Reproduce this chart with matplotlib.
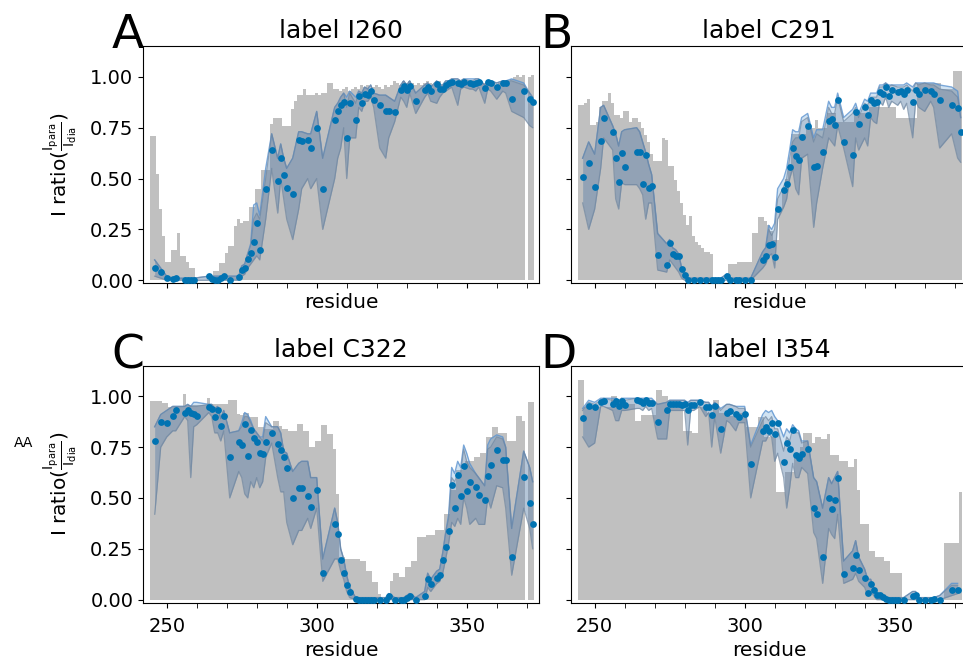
"""Four-panel PRE intensity ratio figure (labels I260, C291, C322, I354)."""

import numpy as np
import matplotlib

matplotlib.use("Agg")
import matplotlib.pyplot as plt
from matplotlib.ticker import MultipleLocator

# residues covered by the grey background bars
BAR_RESIDUES = list(range(245, 373))

# ---------------- label I260 ----------------
A_bars = [
    0.71, 0.71, 0.52, 0.35, 0.22, 0.09, 0.09, 0.15, 0.15, 0.23,
    0.12, 0.12, 0.09, 0.06, 0.06, 0.0, 0.0, 0.0, 0.0, 0.0,
    0.0, 0.044, 0.044, 0.087, 0.087, 0.136, 0.17, 0.17, 0.265, 0.30,
    0.28, 0.29, 0.29, 0.36, 0.36, 0.45, 0.45, 0.54, 0.54, 0.54,
    0.77, 0.80, 0.80, 0.80, 0.76, 0.76, 0.76, 0.84, 0.88, 0.91,
    0.91, 0.94, 0.91, 0.91, 0.91, 0.92, 0.91, 0.92, 0.92, 0.97,
    0.97, 0.94, 0.94, 0.93, 0.94, 0.95, 0.93, 0.94, 0.95, 0.94,
    0.96, 0.95, 0.96, 0.94, 0.95, 0.96, 0.95, 0.94, 0.96, 0.95,
    0.96, 0.98, 0.97, 0.96, 0.98, 0.97, 0.98, 0.97, 0.96, 0.97,
    0.96, 0.97, 0.98, 0.97, 0.96, 0.97, 0.98, 0.96, 0.97, 0.98,
    0.97, 0.96, 0.98, 0.97, 0.96, 0.97, 0.98, 0.97, 0.96, 0.97,
    0.98, 0.97, 0.96, 0.98, 0.97, 0.96, 0.97, 0.98, 0.97, 0.98,
    0.99, 1.0, 1.01, 1.0, 1.01, 0.0, 1.0, 1.01,
]
A_res = [
    246, 248, 250, 252, 253, 256, 257, 258, 259, 264,
    265, 266, 267, 268, 269, 271, 274, 275, 276, 277,
    278, 279, 280, 281, 283, 285, 287, 288, 289, 290,
    292, 294, 295, 297, 298, 300, 302, 306, 307, 308,
    309, 310, 311, 313, 314, 315, 316, 317, 318, 319,
    321, 323, 324, 326, 328, 329, 330, 331, 333, 336,
    337, 338, 340, 341, 342, 343, 344, 345, 347, 348,
    349, 351, 352, 353, 354, 356, 357, 358, 360, 362,
    363, 365, 369, 371, 372,
]
A_val = [
    0.06, 0.04, 0.01, 0.005, 0.01, 0.0, 0.0, 0.0, 0.002, 0.02,
    0.005, 0.0, 0.0, 0.01, 0.02, 0.0, 0.015, 0.05, 0.06, 0.105,
    0.135, 0.19, 0.28, 0.15, 0.45, 0.64, 0.49, 0.60, 0.515, 0.455,
    0.425, 0.69, 0.685, 0.69, 0.65, 0.75, 0.45, 0.79, 0.83, 0.86,
    0.877, 0.70, 0.872, 0.79, 0.905, 0.872, 0.916, 0.91, 0.93, 0.888,
    0.862, 0.83, 0.83, 0.826, 0.934, 0.954, 0.934, 0.954, 0.88, 0.934,
    0.95, 0.93, 0.967, 0.94, 0.94, 0.96, 0.97, 0.975, 0.97, 0.966,
    0.974, 0.97, 0.966, 0.97, 0.975, 0.946, 0.975, 0.97, 0.95, 0.97,
    0.97, 0.89, 0.93, 0.89, 0.877,
]
A_lo = [
    0.02, 0.01, 0.0, 0.0, 0.0, 0.0, 0.0, 0.0, 0.0, 0.0,
    0.0, 0.0, 0.0, 0.0, 0.0, 0.0, 0.0, 0.02, 0.03, 0.06,
    0.08, 0.10, 0.12, 0.10, 0.30, 0.55, 0.33, 0.50, 0.40, 0.30,
    0.20, 0.35, 0.45, 0.50, 0.45, 0.50, 0.25, 0.50, 0.60, 0.65,
    0.75, 0.50, 0.70, 0.70, 0.85, 0.83, 0.88, 0.88, 0.90, 0.85,
    0.65, 0.60, 0.70, 0.78, 0.90, 0.88, 0.85, 0.92, 0.82, 0.90,
    0.92, 0.88, 0.87, 0.90, 0.92, 0.93, 0.94, 0.95, 0.86, 0.94,
    0.95, 0.94, 0.94, 0.93, 0.95, 0.87, 0.94, 0.93, 0.89, 0.93,
    0.92, 0.83, 0.80, 0.76, 0.75,
]
A_hi = [
    0.10, 0.06, 0.02, 0.01, 0.01, 0.01, 0.01, 0.01, 0.01, 0.02,
    0.02, 0.02, 0.02, 0.02, 0.02, 0.02, 0.02, 0.07, 0.08, 0.13,
    0.17, 0.30, 0.33, 0.30, 0.50, 0.72, 0.60, 0.67, 0.60, 0.55,
    0.60, 0.73, 0.73, 0.72, 0.72, 0.83, 0.60, 0.85, 0.87, 0.90,
    0.92, 0.85, 0.92, 0.87, 0.93, 0.92, 0.95, 0.94, 0.96, 0.92,
    0.91, 0.91, 0.90, 0.88, 0.96, 0.98, 0.96, 0.98, 0.92, 0.96,
    0.97, 0.95, 0.98, 0.96, 0.96, 0.98, 0.98, 0.99, 0.99, 0.98,
    0.99, 0.98, 0.98, 0.99, 0.99, 0.96, 0.98, 0.98, 0.97, 0.98,
    0.98, 0.98, 0.96, 0.92, 0.90,
]
A_hi_light = [
    0.10, 0.06, 0.02, 0.01, 0.01, 0.01, 0.01, 0.01, 0.01, 0.02,
    0.02, 0.02, 0.02, 0.02, 0.02, 0.02, 0.02, 0.07, 0.08, 0.13,
    0.18, 0.37, 0.38, 0.32, 0.55, 0.72, 0.60, 0.67, 0.60, 0.55,
    0.60, 0.73, 0.73, 0.72, 0.72, 0.83, 0.60, 0.85, 0.87, 0.90,
    0.92, 0.90, 0.93, 0.90, 0.93, 0.92, 0.95, 0.94, 0.96, 0.92,
    0.91, 0.91, 0.90, 0.88, 0.96, 0.98, 0.96, 0.98, 0.92, 0.96,
    0.97, 0.95, 0.98, 0.96, 0.96, 0.98, 0.98, 0.99, 0.99, 0.98,
    0.99, 0.99, 0.99, 0.99, 0.99, 0.96, 0.98, 0.98, 0.97, 0.98,
    0.98, 0.99, 0.97, 0.92, 0.90,
]

# ---------------- label C291 ----------------
B_bars = [
    0.86, 0.86, 0.87, 0.89, 0.765, 0.765, 0.78, 0.85, 0.88, 0.88,
    0.92, 0.87, 0.81, 0.81, 0.80, 0.83, 0.83, 0.78, 0.80, 0.80,
    0.78, 0.75, 0.716, 0.68, 0.62, 0.585, 0.585, 0.585, 0.70, 0.69,
    0.56, 0.56, 0.495, 0.437, 0.38, 0.32, 0.27, 0.318, 0.216, 0.19,
    0.175, 0.16, 0.14, 0.14, 0.13, 0.0, 0.0, 0.0, 0.0, 0.0,
    0.08, 0.08, 0.08, 0.09, 0.09, 0.09, 0.09, 0.09, 0.23, 0.23,
    0.31, 0.31, 0.29, 0.27, 0.24, 0.20, 0.20, 0.35, 0.45, 0.50,
    0.55, 0.72, 0.72, 0.72, 0.72, 0.72, 0.75, 0.75, 0.75, 0.79,
    0.75, 0.75, 0.75, 0.82, 0.82, 0.82, 0.78, 0.78, 0.78, 0.78,
    0.78, 0.78, 0.82, 0.82, 0.82, 0.82, 0.82, 0.85, 0.85, 0.85,
    0.85, 0.85, 0.85, 0.85, 0.85, 0.85, 0.80, 0.80, 0.80, 0.80,
    0.80, 0.80, 0.80, 0.97, 0.97, 0.97, 0.97, 0.97, 0.97, 0.97,
    0.97, 0.94, 0.94, 0.94, 0.94, 1.03, 1.03, 1.03,
]
B_res = [
    246, 248, 250, 252, 253, 256, 257, 258, 259, 260,
    264, 265, 266, 267, 268, 269, 271, 274, 275, 276,
    277, 278, 279, 280, 281, 283, 285, 287, 289, 290,
    291, 292, 294, 295, 297, 298, 300, 302, 306, 307,
    308, 309, 310, 311, 313, 314, 315, 316, 317, 318,
    319, 321, 323, 324, 326, 328, 329, 330, 331, 333,
    336, 337, 338, 340, 341, 342, 343, 344, 345, 346,
    347, 348, 349, 351, 352, 353, 354, 356, 357, 358,
    360, 362, 363, 365, 369, 371, 372,
]
B_val = [
    0.51, 0.577, 0.46, 0.685, 0.797, 0.728, 0.60, 0.483, 0.628, 0.556,
    0.63, 0.63, 0.475, 0.617, 0.452, 0.462, 0.123, 0.077, 0.183, 0.13,
    0.12, 0.118, 0.053, 0.026, 0.003, 0.003, 0.0, 0.0, 0.0, 0.0,
    0.002, 0.0, 0.02, 0.0, 0.0, 0.0, 0.0, 0.002, 0.098, 0.118,
    0.175, 0.18, 0.115, 0.35, 0.442, 0.475, 0.555, 0.65, 0.61, 0.59,
    0.706, 0.757, 0.555, 0.56, 0.63, 0.785, 0.795, 0.765, 0.888, 0.68,
    0.618, 0.826, 0.767, 0.852, 0.81, 0.888, 0.87, 0.875, 0.924, 0.916,
    0.949, 0.908, 0.934, 0.924, 0.93, 0.916, 0.934, 0.875, 0.937, 0.916,
    0.937, 0.929, 0.918, 0.888, 0.86, 0.847, 0.73,
]
B_lo = [
    0.38, 0.25, 0.35, 0.55, 0.70, 0.64, 0.40, 0.35, 0.48, 0.47,
    0.47, 0.45, 0.42, 0.30, 0.38, 0.38, 0.05, 0.04, 0.10, 0.08,
    0.06, 0.04, 0.01, 0.0, 0.0, 0.0, 0.0, 0.0, 0.0, 0.0,
    0.0, 0.0, 0.0, 0.0, 0.0, 0.0, 0.0, 0.0, 0.06, 0.08,
    0.12, 0.13, 0.06, 0.30, 0.36, 0.40, 0.50, 0.55, 0.45, 0.42,
    0.60, 0.62, 0.26, 0.38, 0.55, 0.70, 0.68, 0.66, 0.76, 0.65,
    0.46, 0.70, 0.64, 0.70, 0.66, 0.80, 0.78, 0.77, 0.88, 0.86,
    0.90, 0.85, 0.88, 0.86, 0.88, 0.84, 0.87, 0.70, 0.88, 0.85,
    0.83, 0.88, 0.85, 0.65, 0.72, 0.60, 0.58,
]
B_hi = [
    0.60, 0.68, 0.62, 0.85, 0.86, 0.76, 0.72, 0.66, 0.73, 0.74,
    0.75, 0.73, 0.68, 0.63, 0.57, 0.52, 0.23, 0.18, 0.20, 0.16,
    0.15, 0.13, 0.06, 0.03, 0.01, 0.01, 0.01, 0.01, 0.01, 0.01,
    0.01, 0.01, 0.03, 0.01, 0.01, 0.01, 0.01, 0.01, 0.14, 0.16,
    0.25, 0.22, 0.25, 0.40, 0.46, 0.50, 0.60, 0.68, 0.70, 0.70,
    0.78, 0.80, 0.68, 0.72, 0.70, 0.85, 0.82, 0.82, 0.90, 0.78,
    0.82, 0.85, 0.80, 0.87, 0.86, 0.90, 0.90, 0.90, 0.95, 0.95,
    0.97, 0.95, 0.96, 0.95, 0.95, 0.95, 0.96, 0.93, 0.97, 0.96,
    0.97, 0.96, 0.96, 0.94, 0.93, 0.90, 0.80,
]
B_hi_light = [
    0.60, 0.68, 0.62, 0.85, 0.86, 0.76, 0.72, 0.66, 0.73, 0.74,
    0.75, 0.73, 0.68, 0.63, 0.57, 0.52, 0.23, 0.18, 0.20, 0.16,
    0.15, 0.13, 0.06, 0.03, 0.01, 0.01, 0.01, 0.01, 0.01, 0.01,
    0.01, 0.01, 0.03, 0.01, 0.01, 0.01, 0.01, 0.01, 0.14, 0.16,
    0.27, 0.25, 0.28, 0.45, 0.50, 0.55, 0.64, 0.74, 0.73, 0.73,
    0.80, 0.82, 0.70, 0.74, 0.74, 0.88, 0.85, 0.85, 0.92, 0.80,
    0.84, 0.87, 0.82, 0.89, 0.88, 0.92, 0.92, 0.92, 0.96, 0.96,
    0.97, 0.96, 0.96, 0.96, 0.96, 0.96, 0.97, 0.95, 0.97, 0.97,
    0.97, 0.97, 0.97, 0.96, 0.95, 0.93, 0.80,
]

# ---------------- label C322 ----------------
C_bars = [
    0.975, 0.975, 0.975, 0.975, 0.966, 0.966, 0.946, 0.946, 0.946, 0.946,
    0.946, 1.01, 0.955, 0.955, 0.955, 0.955, 0.955, 0.955, 0.955, 0.99,
    0.96, 0.96, 0.96, 0.96, 0.96, 0.96, 0.98, 0.98, 0.98, 0.913,
    0.91, 0.92, 0.92, 0.90, 0.90, 0.90, 0.85, 0.85, 0.84, 0.84,
    0.84, 0.88, 0.88, 0.856, 0.84, 0.84, 0.83, 0.83, 0.83, 0.865,
    0.865, 0.83, 0.83, 0.75, 0.75, 0.78, 0.78, 0.86, 0.86, 0.815,
    0.815, 0.74, 0.52, 0.21, 0.21, 0.20, 0.20, 0.20, 0.20, 0.20,
    0.19, 0.19, 0.14, 0.14, 0.087, 0.087, 0.03, 0.0, 0.0, 0.0,
    0.09, 0.13, 0.13, 0.11, 0.11, 0.16, 0.16, 0.19, 0.19, 0.31,
    0.31, 0.31, 0.32, 0.32, 0.32, 0.34, 0.34, 0.34, 0.42, 0.42,
    0.54, 0.54, 0.635, 0.635, 0.635, 0.68, 0.68, 0.68, 0.70, 0.70,
    0.72, 0.72, 0.80, 0.80, 0.85, 0.85, 0.82, 0.82, 0.82, 0.78,
    0.78, 0.78, 0.905, 0.905, 0.88, 0.0, 0.97, 0.97,
]
C_res = [
    246, 248, 250, 252, 253, 256, 257, 258, 259, 260,
    264, 265, 266, 267, 268, 269, 271, 274, 275, 276,
    277, 278, 279, 280, 281, 282, 283, 285, 287, 288,
    289, 290, 292, 294, 295, 297, 298, 300, 302, 306,
    307, 308, 309, 310, 311, 313, 314, 315, 316, 317,
    318, 319, 321, 323, 324, 326, 328, 329, 330, 331,
    333, 336, 337, 338, 340, 341, 342, 343, 344, 345,
    346, 347, 348, 349, 350, 351, 353, 354, 356, 357,
    358, 360, 362, 363, 365, 369, 371, 372,
]
C_val = [
    0.782, 0.871, 0.867, 0.905, 0.934, 0.918, 0.934, 0.918, 0.915, 0.904,
    0.949, 0.937, 0.90, 0.93, 0.853, 0.905, 0.70, 0.777, 0.76, 0.864,
    0.705, 0.836, 0.795, 0.777, 0.72, 0.717, 0.774, 0.818, 0.766, 0.737,
    0.702, 0.648, 0.499, 0.548, 0.548, 0.509, 0.455, 0.537, 0.131, 0.371,
    0.322, 0.193, 0.132, 0.073, 0.037, 0.003, 0.0, 0.0, 0.0, 0.0,
    0.0, 0.0, 0.0, 0.0, 0.02, 0.0, 0.0, 0.0, 0.008, 0.02,
    0.0, 0.02, 0.10, 0.077, 0.108, 0.12, 0.193, 0.258, 0.337, 0.564,
    0.452, 0.613, 0.512, 0.659, 0.533, 0.576, 0.553, 0.515, 0.491, 0.61,
    0.662, 0.738, 0.689, 0.689, 0.209, 0.602, 0.474, 0.37,
]
C_lo = [
    0.42, 0.75, 0.80, 0.83, 0.83, 0.90, 0.88, 0.60, 0.85, 0.86,
    0.92, 0.90, 0.82, 0.82, 0.78, 0.83, 0.50, 0.63, 0.60, 0.52,
    0.50, 0.58, 0.55, 0.60, 0.55, 0.58, 0.70, 0.77, 0.60, 0.53,
    0.53, 0.38, 0.27, 0.34, 0.34, 0.40, 0.35, 0.45, 0.09, 0.20,
    0.20, 0.14, 0.10, 0.04, 0.01, 0.0, 0.0, 0.0, 0.0, 0.0,
    0.0, 0.0, 0.0, 0.0, 0.0, 0.0, 0.0, 0.0, 0.0, 0.0,
    0.0, 0.0, 0.06, 0.04, 0.08, 0.09, 0.13, 0.20, 0.28, 0.38,
    0.36, 0.40, 0.37, 0.50, 0.45, 0.37, 0.40, 0.37, 0.37, 0.50,
    0.45, 0.56, 0.55, 0.45, 0.12, 0.45, 0.35, 0.25,
]
C_hi = [
    0.85, 0.91, 0.93, 0.95, 0.95, 0.95, 0.96, 0.95, 0.95, 0.95,
    0.96, 0.96, 0.94, 0.95, 0.89, 0.93, 0.82, 0.83, 0.85, 0.90,
    0.90, 0.87, 0.84, 0.82, 0.80, 0.78, 0.87, 0.85, 0.85, 0.82,
    0.73, 0.72, 0.63, 0.67, 0.68, 0.68, 0.60, 0.60, 0.20, 0.45,
    0.38, 0.25, 0.20, 0.12, 0.06, 0.01, 0.01, 0.01, 0.01, 0.01,
    0.01, 0.01, 0.01, 0.01, 0.03, 0.01, 0.01, 0.01, 0.02, 0.03,
    0.01, 0.04, 0.13, 0.10, 0.14, 0.15, 0.23, 0.33, 0.40, 0.60,
    0.58, 0.62, 0.62, 0.74, 0.68, 0.65, 0.62, 0.60, 0.56, 0.74,
    0.75, 0.80, 0.79, 0.75, 0.35, 0.73, 0.65, 0.58,
]
C_hi_light = [
    0.85, 0.91, 0.93, 0.95, 0.95, 0.95, 0.96, 0.95, 0.97, 0.97,
    0.96, 0.96, 0.94, 0.95, 0.89, 0.93, 0.82, 0.83, 0.87, 0.92,
    0.91, 0.88, 0.84, 0.82, 0.80, 0.80, 0.90, 0.85, 0.85, 0.82,
    0.73, 0.72, 0.63, 0.67, 0.68, 0.68, 0.60, 0.60, 0.20, 0.45,
    0.38, 0.25, 0.20, 0.12, 0.06, 0.01, 0.01, 0.01, 0.01, 0.01,
    0.01, 0.01, 0.01, 0.01, 0.03, 0.01, 0.01, 0.01, 0.02, 0.03,
    0.01, 0.04, 0.13, 0.10, 0.14, 0.15, 0.23, 0.33, 0.42, 0.65,
    0.62, 0.68, 0.65, 0.76, 0.72, 0.67, 0.62, 0.60, 0.56, 0.76,
    0.79, 0.81, 0.80, 0.75, 0.35, 0.73, 0.65, 0.58,
]

# ---------------- label I354 ----------------
D_bars = [
    1.08, 1.08, 0.946, 0.946, 0.946, 0.946, 0.946, 0.946, 0.946, 0.946,
    0.946, 1.0, 1.0, 0.96, 0.96, 0.96, 0.96, 0.96, 0.96, 0.88,
    0.88, 0.91, 0.91, 0.91, 0.91, 0.91, 1.03, 1.03, 1.0, 1.0,
    0.946, 0.946, 0.946, 0.946, 0.946, 0.83, 0.83, 0.83, 0.82, 0.82,
    0.946, 0.946, 0.946, 0.92, 0.92, 0.98, 0.98, 0.92, 0.92, 0.92,
    0.905, 0.905, 0.905, 0.905, 0.92, 0.92, 0.85, 0.85, 0.85, 0.85,
    0.90, 0.90, 0.80, 0.80, 0.80, 0.80, 0.53, 0.53, 0.53, 0.63,
    0.63, 0.63, 0.70, 0.70, 0.75, 0.82, 0.82, 0.82, 0.77, 0.80,
    0.80, 0.79, 0.79, 0.815, 0.71, 0.71, 0.71, 0.68, 0.68, 0.68,
    0.65, 0.65, 0.69, 0.54, 0.37, 0.37, 0.37, 0.24, 0.24, 0.21,
    0.21, 0.21, 0.19, 0.19, 0.13, 0.13, 0.13, 0.13, 0.0, 0.0,
    0.0, 0.0, 0.0, 0.0, 0.0, 0.0, 0.0, 0.0, 0.0, 0.0,
    0.0, 0.0, 0.28, 0.28, 0.28, 0.28, 0.28, 0.53,
]
D_res = [
    246, 248, 250, 252, 253, 256, 257, 258, 259, 260,
    264, 265, 266, 267, 268, 269, 271, 274, 275, 276,
    277, 278, 279, 280, 281, 282, 283, 285, 287, 288,
    289, 290, 292, 294, 295, 297, 298, 300, 302, 306,
    307, 308, 309, 310, 311, 313, 314, 315, 316, 317,
    318, 319, 321, 323, 324, 326, 328, 329, 330, 331,
    333, 336, 337, 338, 340, 341, 342, 343, 344, 345,
    346, 347, 348, 349, 350, 351, 353, 356, 357, 358,
    360, 362, 363, 365, 369, 371,
]
D_val = [
    0.892, 0.953, 0.945, 0.971, 0.975, 0.963, 0.975, 0.954, 0.975, 0.958,
    0.98, 0.975, 0.967, 0.98, 0.967, 0.967, 0.875, 0.933, 0.96, 0.96,
    0.962, 0.96, 0.958, 0.96, 0.93, 0.955, 0.955, 0.97, 0.946, 0.946,
    0.906, 0.951, 0.84, 0.92, 0.929, 0.915, 0.90, 0.915, 0.666, 0.83,
    0.848, 0.83, 0.868, 0.815, 0.87, 0.676, 0.77, 0.741, 0.835, 0.712,
    0.697, 0.717, 0.741, 0.452, 0.422, 0.209, 0.50, 0.447, 0.491, 0.597,
    0.127, 0.157, 0.221, 0.147, 0.108, 0.034, 0.078, 0.045, 0.021, 0.021,
    0.012, 0.003, 0.0, 0.0, 0.0, 0.0, 0.0, 0.016, 0.024, 0.0,
    0.0, 0.0, 0.002, 0.0, 0.045, 0.045,
]
D_lo = [
    0.80, 0.75, 0.77, 0.95, 0.95, 0.93, 0.88, 0.88, 0.93, 0.93,
    0.94, 0.94, 0.93, 0.95, 0.93, 0.94, 0.79, 0.79, 0.93, 0.93,
    0.93, 0.93, 0.93, 0.93, 0.76, 0.93, 0.93, 0.95, 0.90, 0.92,
    0.75, 0.90, 0.72, 0.88, 0.87, 0.83, 0.87, 0.87, 0.50, 0.78,
    0.78, 0.81, 0.80, 0.68, 0.72, 0.60, 0.45, 0.55, 0.67, 0.60,
    0.60, 0.65, 0.62, 0.33, 0.30, 0.08, 0.35, 0.32, 0.30, 0.42,
    0.08, 0.10, 0.13, 0.09, 0.06, 0.02, 0.04, 0.02, 0.0, 0.0,
    0.0, 0.0, 0.0, 0.0, 0.0, 0.0, 0.0, 0.0, 0.0, 0.0,
    0.0, 0.0, 0.0, 0.0, 0.02, 0.03,
]
D_hi = [
    0.93, 0.97, 0.96, 0.98, 0.99, 0.98, 0.98, 0.97, 0.99, 0.98,
    0.99, 0.99, 0.98, 0.99, 0.98, 0.98, 0.96, 0.97, 0.98, 0.98,
    0.98, 0.98, 0.98, 0.98, 0.96, 0.98, 0.98, 0.98, 0.97, 0.97,
    0.94, 0.97, 0.93, 0.96, 0.96, 0.95, 0.94, 0.94, 0.75, 0.88,
    0.90, 0.88, 0.90, 0.84, 0.84, 0.73, 0.80, 0.78, 0.84, 0.82,
    0.82, 0.77, 0.78, 0.60, 0.58, 0.45, 0.60, 0.57, 0.60, 0.63,
    0.19, 0.24, 0.29, 0.21, 0.15, 0.10, 0.10, 0.06, 0.03, 0.03,
    0.02, 0.01, 0.01, 0.01, 0.01, 0.01, 0.01, 0.04, 0.04, 0.01,
    0.01, 0.01, 0.01, 0.02, 0.07, 0.07,
]
D_hi_light = [
    0.94, 0.98, 0.97, 0.99, 0.99, 0.99, 0.99, 0.98, 0.99, 0.99,
    0.99, 0.99, 0.99, 0.99, 0.99, 0.99, 0.96, 0.97, 0.98, 0.98,
    0.98, 0.98, 0.98, 0.98, 0.97, 0.98, 0.98, 0.98, 0.97, 0.97,
    0.95, 0.97, 0.94, 0.96, 0.96, 0.95, 0.95, 0.95, 0.76, 0.91,
    0.93, 0.92, 0.93, 0.90, 0.88, 0.80, 0.84, 0.82, 0.86, 0.84,
    0.83, 0.78, 0.78, 0.60, 0.58, 0.45, 0.60, 0.57, 0.60, 0.63,
    0.19, 0.24, 0.29, 0.21, 0.15, 0.10, 0.10, 0.06, 0.03, 0.03,
    0.02, 0.01, 0.01, 0.01, 0.01, 0.01, 0.01, 0.04, 0.04, 0.01,
    0.01, 0.01, 0.01, 0.02, 0.08, 0.08,
]

PANELS = [
    ("A", "label I260", A_bars, A_res, A_val, A_lo, A_hi, A_hi_light),
    ("B", "label C291", B_bars, B_res, B_val, B_lo, B_hi, B_hi_light),
    ("C", "label C322", C_bars, C_res, C_val, C_lo, C_hi, C_hi_light),
    ("D", "label I354", D_bars, D_res, D_val, D_lo, D_hi, D_hi_light),
]

BAR_COLOR = "#c0c0c0"
DOT_COLOR = "#0173b2"
LIGHT_FILL = "#2f80c8"
LIGHT_EDGE = "#5a92cf"
DARK_FILL = "#6e7d96"
DARK_EDGE = "#6f86a0"

YLABEL = r"I ratio($\frac{\mathrm{I_{para}}}{\mathrm{I_{dia}}}$)"


def _draw_panel(ax, bars, res, val, lo, hi, hi_light):
    residues = np.asarray(BAR_RESIDUES, dtype=float)
    edges = np.append(residues - 0.5, residues[-1] + 0.5)
    ax.stairs(bars, edges, fill=True, color=BAR_COLOR, lw=0, zorder=1)

    ax.fill_between(res, lo, hi_light, color=LIGHT_FILL, alpha=0.22, lw=0, zorder=2)
    ax.plot(res, hi_light, color=LIGHT_EDGE, lw=1.0, alpha=0.8, zorder=2)
    ax.fill_between(res, lo, hi, color=DARK_FILL, alpha=0.28, lw=0, zorder=3)
    ax.plot(res, hi, color=DARK_EDGE, lw=0.9, alpha=0.7, zorder=3)
    ax.plot(res, lo, color=DARK_EDGE, lw=0.9, alpha=0.7, zorder=3)

    ax.scatter(res, val, s=24, color=DOT_COLOR, lw=0, zorder=4)


def main():
    fig = plt.figure(figsize=(9.63, 6.61), dpi=100)
    width, height = 0.4115, 0.3585
    lefts = [0.1485, 0.5929, 0.1485, 0.5929]
    bottoms = [0.5714, 0.5714, 0.0882, 0.0882]
    letter_pos = [(0.116, 0.927), (0.561, 0.927), (0.116, 0.443), (0.561, 0.443)]

    for i, (letter, title, bars, res, val, lo, hi, hi_light) in enumerate(PANELS):
        ax = fig.add_axes([lefts[i], bottoms[i], width, height])
        _draw_panel(ax, bars, res, val, lo, hi, hi_light)

        ax.set_xlim(242.1, 374.2)
        ax.set_ylim(-0.015, 1.15)
        ax.xaxis.set_major_locator(MultipleLocator(50))
        ax.xaxis.set_minor_locator(MultipleLocator(10))
        ax.set_yticks([0.0, 0.25, 0.5, 0.75, 1.0])
        ax.tick_params(axis="both", which="major", labelsize=14, length=3.5)
        ax.tick_params(axis="x", which="minor", length=3.5)
        ax.set_title(title, fontsize=18)

        if i < 2:
            ax.tick_params(axis="x", labelbottom=False)
            ax.set_xlabel("residue", fontsize=14.5, labelpad=0)
        else:
            ax.tick_params(axis="x", which="major", pad=6.5)
            ax.set_xlabel("residue", fontsize=14.5)
        if i % 2 == 1:
            ax.tick_params(axis="y", labelleft=False)
        else:
            ax.set_ylabel(YLABEL, fontsize=14.5, labelpad=8)

        fig.text(letter_pos[i][0], letter_pos[i][1], letter, fontsize=34,
                 ha="left", va="baseline")

    fig.text(33 / 963, 1 - 443 / 661, "AA", fontsize=10, ha="right", va="center")
    fig.savefig("out.png", dpi=100)
    plt.close(fig)


if __name__ == "__main__":
    main()
